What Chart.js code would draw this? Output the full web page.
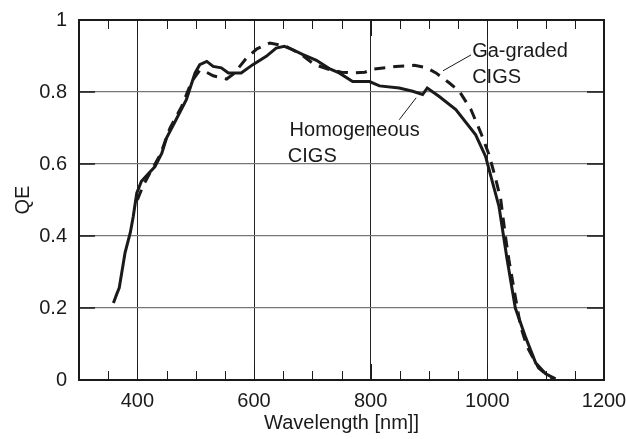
<!DOCTYPE html>
<html>
<head>
<meta charset="utf-8">
<script src="https://cdn.jsdelivr.net/npm/chart.js@4/dist/chart.umd.min.js"></script>
<style>
  html, body { margin: 0; padding: 0; background: #fff; }
  canvas { display: block; }
</style>
</head>
<body>
<canvas id="qe" width="626" height="439"></canvas>
<script>
  // Homogeneous CIGS (solid)
  var homoNm = [359, 365, 369, 379, 388, 393, 399, 407, 420, 430, 442, 450, 467, 484, 499, 507, 519, 530, 544, 556, 578, 598, 621, 638, 652, 667, 684, 707, 729, 746, 769, 798, 815, 849, 872, 889, 897, 917, 946, 980, 997, 1006, 1020, 1034, 1048, 1066, 1083, 1100, 1117];
  var homoQE = [0.214, 0.24, 0.256, 0.354, 0.41, 0.454, 0.519, 0.552, 0.575, 0.592, 0.63, 0.672, 0.725, 0.779, 0.853, 0.876, 0.885, 0.871, 0.867, 0.853, 0.853, 0.876, 0.899, 0.922, 0.927, 0.917, 0.904, 0.888, 0.865, 0.853, 0.829, 0.829, 0.817, 0.811, 0.802, 0.793, 0.811, 0.788, 0.751, 0.681, 0.621, 0.566, 0.482, 0.334, 0.2, 0.117, 0.047, 0.017, 0.003];

  // Ga-graded CIGS (dashed)
  var gradedNm = [400, 410, 425, 439, 456, 476, 493, 507, 516, 530, 553, 565, 587, 605, 627, 655, 680, 704, 730, 750, 769, 790, 806, 843, 875, 895, 912, 935, 952, 972, 989, 1003, 1014, 1023, 1031, 1037, 1047, 1057, 1068, 1088, 1105, 1115];
  var gradedQE = [0.5, 0.54, 0.585, 0.625, 0.7, 0.76, 0.829, 0.86, 0.857, 0.845, 0.836, 0.85, 0.894, 0.92, 0.936, 0.927, 0.905, 0.876, 0.862, 0.855, 0.853, 0.855, 0.864, 0.871, 0.874, 0.868, 0.853, 0.825, 0.802, 0.751, 0.686, 0.625, 0.561, 0.501, 0.4, 0.334, 0.24, 0.149, 0.093, 0.033, 0.01, 0.003];

  var xMin = 300, xMax = 1200, xMinorStep = 50, xMajorStep = 200;
  var yTicks = [0, 0.2, 0.4, 0.6, 0.8, 1];

  var FONT = '"Liberation Sans", Arial, Helvetica, sans-serif';
  var INK = '#1a1a1a';

  function pts(xs, ys) {
    return xs.map(function (x, i) { return { x: x, y: ys[i] }; });
  }

  // frame, inward tick marks, callout text
  var decorations = {
    id: 'decorations',
    afterDraw: function (chart) {
      var ctx = chart.ctx;
      var a = chart.chartArea;
      var sx = chart.scales.x, sy = chart.scales.y;
      ctx.save();
      ctx.strokeStyle = INK;

      // minor x ticks top and bottom
      ctx.lineWidth = 1;
      for (var v = xMin + xMinorStep; v < xMax; v += xMinorStep) {
        var px = Math.round(sx.getPixelForValue(v)) + 0.5;
        var len = (v % xMajorStep === 0) ? 16 : 9;
        ctx.beginPath();
        ctx.moveTo(px, a.bottom); ctx.lineTo(px, a.bottom - len);
        ctx.moveTo(px, a.top); ctx.lineTo(px, a.top + len);
        ctx.stroke();
      }
      // y ticks left and right
      ctx.lineWidth = 1.5;
      yTicks.forEach(function (t) {
        if (t === 0 || t === 1) return;
        var py = sy.getPixelForValue(t);
        ctx.beginPath();
        ctx.moveTo(a.left, py); ctx.lineTo(a.left + 16, py);
        ctx.moveTo(a.right, py); ctx.lineTo(a.right - 17, py);
        ctx.stroke();
      });

      // frame
      ctx.lineWidth = 2;
      ctx.strokeRect(a.left, a.top, a.right - a.left, a.bottom - a.top);

      // callouts
      ctx.lineWidth = 1;
      ctx.beginPath();
      ctx.moveTo(sx.getPixelForValue(924), sy.getPixelForValue(0.859));
      ctx.lineTo(sx.getPixelForValue(972), sy.getPixelForValue(0.903));
      ctx.moveTo(sx.getPixelForValue(849), sy.getPixelForValue(0.723));
      ctx.lineTo(sx.getPixelForValue(878), sy.getPixelForValue(0.784));
      ctx.stroke();

      ctx.fillStyle = INK;
      ctx.font = '20px ' + FONT;
      ctx.textBaseline = 'alphabetic';
      ctx.textAlign = 'left';
      ctx.fillText('Ga-graded', sx.getPixelForValue(974), sy.getPixelForValue(0.897));
      ctx.fillText('CIGS', sx.getPixelForValue(974), sy.getPixelForValue(0.826));
      ctx.fillText('Homogeneous', sx.getPixelForValue(661), sy.getPixelForValue(0.677));
      ctx.fillText('CIGS', sx.getPixelForValue(658), sy.getPixelForValue(0.606));
      ctx.restore();
    }
  };

  new Chart(document.getElementById('qe'), {
    type: 'line',
    data: {
      datasets: [{
        label: 'Ga-graded CIGS',
        data: pts(gradedNm, gradedQE),
        borderColor: INK,
        borderWidth: 3,
        borderDash: [11, 8],
        pointRadius: 0,
        fill: false,
        tension: 0
      }, {
        label: 'Homogeneous CIGS',
        data: pts(homoNm, homoQE),
        borderColor: INK,
        borderWidth: 3,
        pointRadius: 0,
        fill: false,
        tension: 0
      }]
    },
    options: {
      responsive: false,
      devicePixelRatio: 1,
      animation: false,
      layout: { padding: { top: 20, right: 22, left: 0, bottom: 0 } },
      plugins: { legend: { display: false }, tooltip: { enabled: false } },
      scales: {
        x: {
          type: 'linear',
          min: xMin,
          max: xMax,
          afterBuildTicks: function (scale) {
            var t = [];
            for (var v = xMin; v <= xMax; v += xMinorStep) t.push({ value: v });
            scale.ticks = t;
          },
          afterFit: function (scale) {
            scale.height = 59;
            scale.paddingLeft = 0;
            scale.paddingRight = 0;
          },
          ticks: {
            autoSkip: false,
            maxRotation: 0,
            padding: 9,
            color: INK,
            font: { family: FONT, size: 20 },
            callback: function (v) { return (v % xMajorStep === 0 && v > xMin) ? String(v) : ''; }
          },
          grid: {
            drawTicks: false,
            lineWidth: 1,
            color: function (c) {
              var v = c.tick && c.tick.value;
              return (v % xMajorStep === 0 && v > xMin && v < xMax) ? '#222' : 'rgba(0,0,0,0)';
            }
          },
          border: { display: false },
          title: {
            display: true,
            text: 'Wavelength [nm]]',
            color: INK,
            font: { family: FONT, size: 20 },
            padding: { top: 0, bottom: 4 }
          }
        },
        y: {
          min: 0,
          max: 1,
          afterBuildTicks: function (scale) {
            scale.ticks = yTicks.map(function (v) { return { value: v }; });
          },
          afterFit: function (scale) {
            scale.width = 79;
            scale.paddingTop = 0;
            scale.paddingBottom = 0;
          },
          ticks: {
            padding: 12,
            color: INK,
            font: { family: FONT, size: 20 },
            callback: function (v) { return String(Math.round(v * 10) / 10); }
          },
          grid: {
            drawTicks: false,
            lineWidth: 1.2,
            color: function (c) {
              var v = c.tick && c.tick.value;
              return (v > 0 && v < 1) ? '#777' : 'rgba(0,0,0,0)';
            }
          },
          border: { display: false },
          title: {
            display: true,
            text: 'QE',
            color: INK,
            font: { family: FONT, size: 20 },
            padding: { top: 11, bottom: 0 }
          }
        }
      }
    },
    plugins: [decorations]
  });
</script>
</body>
</html>
